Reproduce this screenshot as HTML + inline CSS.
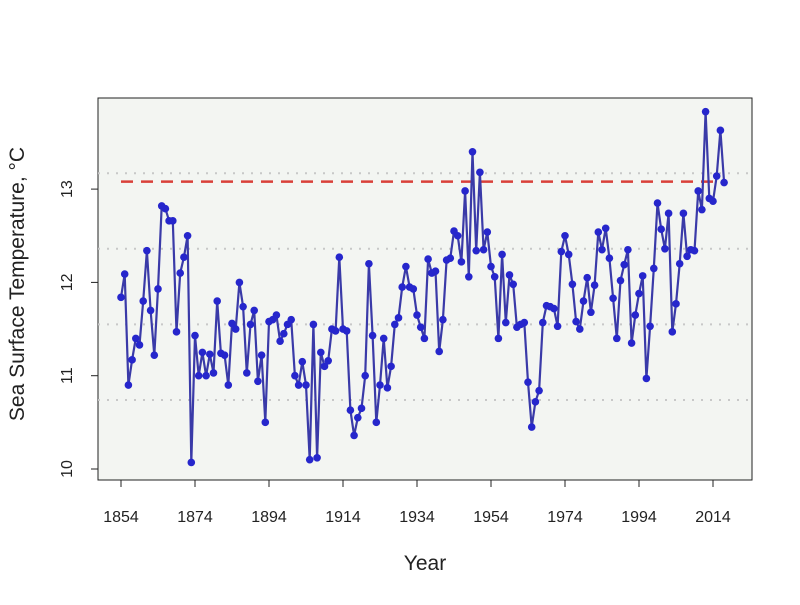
<!DOCTYPE html>
<html><head><meta charset="utf-8"><style>
body{margin:0;background:#fff;font-family:"Liberation Sans",sans-serif}
svg text{font-family:"Liberation Sans",sans-serif;fill:#222}
</style></head><body>
<svg id="chart" width="800" height="600" xmlns="http://www.w3.org/2000/svg">
<rect x="98" y="98" width="654" height="382" fill="#f3f5f2" stroke="#222" stroke-width="1"/>
<g id="grid"></g><g id="series"></g><g id="axes"></g>
<text x="425" y="570" font-size="21" text-anchor="middle">Year</text>
<text transform="translate(24,284) rotate(-90)" font-size="21" text-anchor="middle">Sea Surface Temperature, °C</text>
</svg>
<script>
const startYear = 1854;
const temps = [11.84,12.09,10.9,11.17,11.4,11.33,11.8,12.34,11.7,11.22,11.93,12.82,12.79,12.66,12.66,11.47,12.1,12.27,12.5,10.07,11.43,11.0,11.25,11.0,11.23,11.03,11.8,11.24,11.22,10.9,11.56,11.5,12.0,11.74,11.03,11.55,11.7,10.94,11.22,10.5,11.58,11.6,11.65,11.37,11.45,11.55,11.6,11.0,10.9,11.15,10.9,10.1,11.55,10.12,11.25,11.1,11.16,11.5,11.48,12.27,11.5,11.48,10.63,10.36,10.55,10.65,11.0,12.2,11.43,10.5,10.9,11.4,10.87,11.1,11.55,11.62,11.95,12.17,11.95,11.93,11.65,11.52,11.4,12.25,12.1,12.12,11.26,11.6,12.24,12.26,12.55,12.5,12.22,12.98,12.06,13.4,12.34,13.18,12.35,12.54,12.17,12.06,11.4,12.3,11.57,12.08,11.98,11.52,11.55,11.57,10.93,10.45,10.72,10.84,11.57,11.75,11.74,11.72,11.53,12.33,12.5,12.3,11.98,11.58,11.5,11.8,12.05,11.68,11.97,12.54,12.35,12.58,12.26,11.83,11.4,12.02,12.19,12.35,11.35,11.65,11.88,12.07,10.97,11.53,12.15,12.85,12.57,12.36,12.74,11.47,11.77,12.2,12.74,12.28,12.35,12.34,12.98,12.78,13.83,12.9,12.87,13.14,13.63,13.07];
const xTicks = [1854,1874,1894,1914,1934,1954,1974,1994,2014];
const yTicks = [10,11,12,13];
const gridLevels = [10.74,11.55,12.36,13.17];
const refLevel = 13.08;
const NS="http://www.w3.org/2000/svg";
const xS = y => 121 + (y-1854)*3.7;
const yS = v => 469 - (v-10)*93.3;
function mk(tag, attrs, parent){const e=document.createElementNS(NS,tag);for(const k in attrs)e.setAttribute(k,attrs[k]);parent.appendChild(e);return e;}
const grid=document.getElementById('grid'), ser=document.getElementById('series'), ax=document.getElementById('axes');
const lastYear = startYear + temps.length - 1;
gridLevels.forEach(g=>{
  const l=mk('line',{x1:98,x2:752,y1:yS(g),y2:yS(g),stroke:'#c8c8c8','stroke-width':2,'stroke-dasharray':'2 7'},grid);
  
  
});
const ref=mk('line',{x1:xS(startYear),x2:xS(lastYear),y1:yS(refLevel),y2:yS(refLevel),stroke:'#d9403a','stroke-width':2.5,'stroke-dasharray':'12 8'},grid);


const pts=temps.map((v,i)=>xS(startYear+i)+','+yS(v)).join(' ');
const pl=mk('polyline',{points:pts,fill:'none',stroke:'#3a3aa8','stroke-width':2.2},ser);


temps.forEach((v,i)=>{
  const c=mk('circle',{cx:xS(startYear+i),cy:yS(v),r:3.8,fill:'#2626cc'},ser);
  
  
});
xTicks.forEach(t=>{
  const l=mk('line',{x1:xS(t),x2:xS(t),y1:480,y2:487,stroke:'#222'},ax);
  
  
  const tx=mk('text',{x:xS(t),y:522,'font-size':16,'text-anchor':'middle'},ax);
  tx.textContent=t;
  
  
});
yTicks.forEach(t=>{
  const l=mk('line',{x1:91,x2:98,y1:yS(t),y2:yS(t),stroke:'#222'},ax);
  
  
  const tx=mk('text',{transform:`translate(72,${yS(t)}) rotate(-90)`,'font-size':16,'text-anchor':'middle'},ax);
  tx.textContent=t;
  
  
});
</script>
</body></html>
